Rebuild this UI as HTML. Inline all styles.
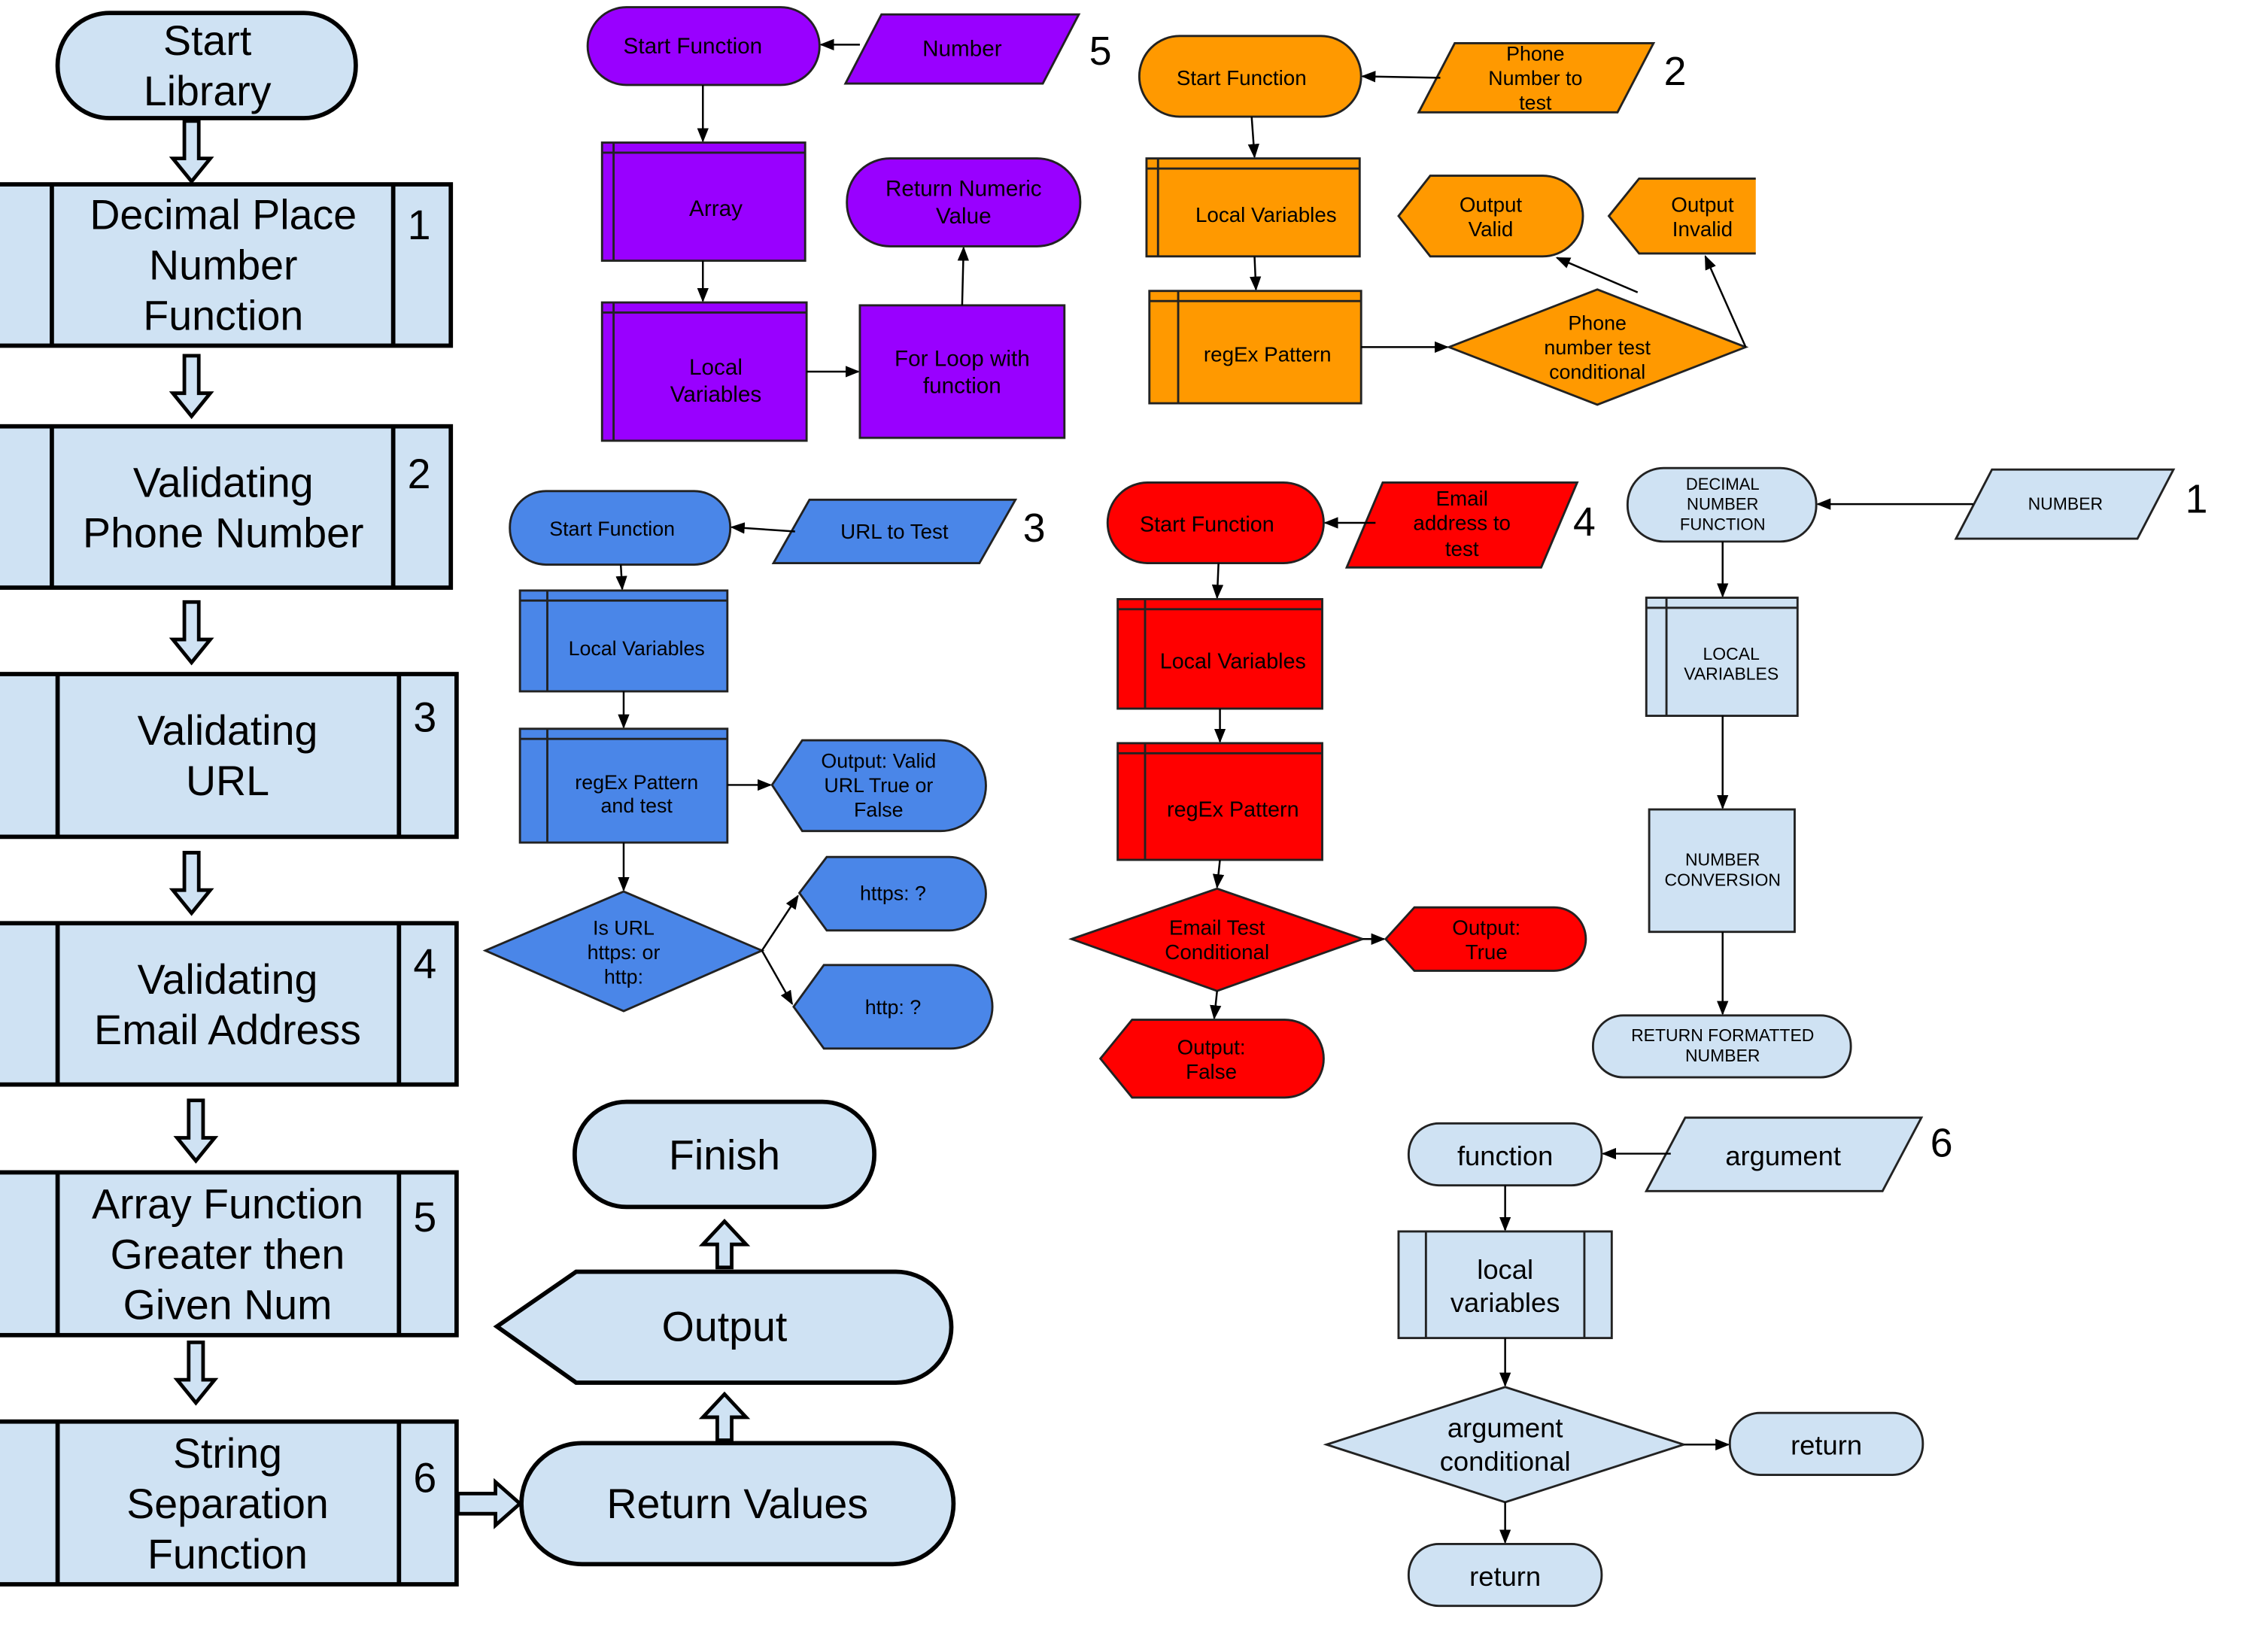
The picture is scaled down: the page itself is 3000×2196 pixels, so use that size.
<!DOCTYPE html>
<html><head><meta charset="utf-8"><style>
html,body{margin:0;padding:0;background:#fff;width:3000px;height:2196px;overflow:hidden}
svg{display:block}
text{font-family:"Liberation Sans",sans-serif;text-anchor:middle;fill:#000}
.lb{fill:#cfe2f3;stroke:#000;stroke-width:3}
.lbt{fill:#cfe2f3;stroke:#222;stroke-width:1.5}
.pu{fill:#9900ff;stroke:#222;stroke-width:1.5}
.or{fill:#ff9900;stroke:#222;stroke-width:1.5}
.bl{fill:#4a86e8;stroke:#222;stroke-width:1.5}
.rd{fill:#ff0000;stroke:#222;stroke-width:1.5}
.ln{stroke:#000;stroke-width:1.3;fill:none}
.ha{fill:#cfe2f3;stroke:#000;stroke-width:2.5}
</style></head><body>
<svg width="3000" height="2196" viewBox="0 0 1567 1147" preserveAspectRatio="none" xmlns="http://www.w3.org/2000/svg">
<defs><marker id="a" markerWidth="10" markerHeight="8" refX="9" refY="4" orient="auto" markerUnits="userSpaceOnUse"><path d="M0,0L10,4L0,8z" fill="#000"/></marker>
<g id="dn"><polygon class="ha" points="-5,0 5,0 5,26 13,26 0,42 -13,26 -5,26"/></g>
<g id="up"><polygon class="ha" points="-5,32 5,32 5,16 15,16 0,0 -15,16 -5,16"/></g>
</defs>

<!-- LEFT COLUMN -->
<rect class="lb" x="40" y="9" width="207" height="73" rx="36"/>
<text x="144" y="38" font-size="29">Start</text><text x="144" y="73" font-size="29">Library</text>

<use href="#dn" transform="translate(133,84)"/>
<use href="#dn" transform="translate(133,247)"/>
<use href="#dn" transform="translate(133,418)"/>
<use href="#dn" transform="translate(133,592)"/>
<use href="#dn" transform="translate(136,764)"/>
<use href="#dn" transform="translate(136,932)"/>

<rect class="lb" x="-2" y="128" width="315" height="112"/><line class="lb" x1="36" y1="128" x2="36" y2="240"/><line class="lb" x1="273" y1="128" x2="273" y2="240"/>
<text x="155" y="159" font-size="29">Decimal Place</text><text x="155" y="194" font-size="29">Number</text><text x="155" y="229" font-size="29">Function</text><text x="291" y="166" font-size="29">1</text>

<rect class="lb" x="-2" y="296" width="315" height="112"/><line class="lb" x1="36" y1="296" x2="36" y2="408"/><line class="lb" x1="273" y1="296" x2="273" y2="408"/>
<text x="155" y="345" font-size="29">Validating</text><text x="155" y="380" font-size="29">Phone Number</text><text x="291" y="339" font-size="29">2</text>

<rect class="lb" x="-2" y="468" width="319" height="113"/><line class="lb" x1="40" y1="468" x2="40" y2="581"/><line class="lb" x1="277" y1="468" x2="277" y2="581"/>
<text x="158" y="517" font-size="29">Validating</text><text x="158" y="552" font-size="29">URL</text><text x="295" y="508" font-size="29">3</text>

<rect class="lb" x="-2" y="641" width="319" height="112"/><line class="lb" x1="40" y1="641" x2="40" y2="753"/><line class="lb" x1="277" y1="641" x2="277" y2="753"/>
<text x="158" y="690" font-size="29">Validating</text><text x="158" y="725" font-size="29">Email Address</text><text x="295" y="679" font-size="29">4</text>

<rect class="lb" x="-2" y="814" width="319" height="113"/><line class="lb" x1="40" y1="814" x2="40" y2="927"/><line class="lb" x1="277" y1="814" x2="277" y2="927"/>
<text x="158" y="846" font-size="29">Array Function</text><text x="158" y="881" font-size="29">Greater then</text><text x="158" y="916" font-size="29">Given Num</text><text x="295" y="855" font-size="29">5</text>

<rect class="lb" x="-2" y="987" width="319" height="113"/><line class="lb" x1="40" y1="987" x2="40" y2="1100"/><line class="lb" x1="277" y1="987" x2="277" y2="1100"/>
<text x="158" y="1019" font-size="29">String</text><text x="158" y="1054" font-size="29">Separation</text><text x="158" y="1089" font-size="29">Function</text><text x="295" y="1036" font-size="29">6</text>

<polygon class="ha" points="318,1037 344,1037 344,1029 361,1044 344,1059 344,1051 318,1051"/>
<rect class="lb" x="362" y="1002" width="300" height="84" rx="42"/>
<text x="512" y="1054" font-size="29">Return Values</text>
<use href="#up" transform="translate(503,968)"/>
<path class="lb" d="M345,921 L400,883 L622,883 A38,38 0 0 1 622,960 L400,960 Z"/>
<text x="503" y="931" font-size="29">Output</text>
<use href="#up" transform="translate(503,848)"/>
<rect class="lb" x="399" y="765" width="208" height="73" rx="36"/>
<text x="503" y="812" font-size="29">Finish</text>

<!-- PURPLE 5 -->
<rect class="pu" x="408" y="5" width="161" height="54" rx="27"/><text x="481" y="37" font-size="15.5">Start Function</text>
<polygon class="pu" points="587,58 612,10 749,10 724,58"/><text x="668" y="39" font-size="15.5">Number</text>
<text x="764" y="45" font-size="28">5</text>
<line class="ln" x1="597" y1="31" x2="570" y2="31" marker-end="url(#a)"/>
<line class="ln" x1="488" y1="59" x2="488" y2="98" marker-end="url(#a)"/>
<rect class="pu" x="418" y="99" width="141" height="82"/><line class="pu" x1="418" y1="106" x2="559" y2="106"/><line class="pu" x1="426" y1="99" x2="426" y2="181"/>
<text x="497" y="150" font-size="15.5">Array</text>
<line class="ln" x1="488" y1="181" x2="488" y2="209" marker-end="url(#a)"/>
<rect class="pu" x="418" y="210" width="142" height="96"/><line class="pu" x1="418" y1="217" x2="560" y2="217"/><line class="pu" x1="426" y1="210" x2="426" y2="306"/>
<text x="497" y="260" font-size="15.5">Local</text><text x="497" y="279" font-size="15.5">Variables</text>
<line class="ln" x1="560" y1="258" x2="596" y2="258" marker-end="url(#a)"/>
<rect class="pu" x="597" y="212" width="142" height="92"/>
<text x="668" y="254" font-size="15.5">For Loop with</text><text x="668" y="273" font-size="15.5">function</text>
<line class="ln" x1="668" y1="212" x2="669" y2="172" marker-end="url(#a)"/>
<rect class="pu" x="588" y="110" width="162" height="61" rx="30"/>
<text x="669" y="136" font-size="15.5">Return Numeric</text><text x="669" y="155" font-size="15.5">Value</text>

<!-- ORANGE 2 -->
<rect class="or" x="791" y="25" width="154" height="56" rx="28"/><text x="862" y="59" font-size="14.5">Start Function</text>
<polygon class="or" points="985,78 1010,30 1148,30 1123,78"/>
<text x="1066" y="42" font-size="14">Phone</text><text x="1066" y="59" font-size="14">Number to</text><text x="1066" y="76" font-size="14">test</text>
<text x="1163" y="59" font-size="28">2</text>
<line class="ln" x1="1000" y1="54" x2="946" y2="53" marker-end="url(#a)"/>
<line class="ln" x1="869" y1="81" x2="871" y2="109" marker-end="url(#a)"/>
<rect class="or" x="796" y="110" width="148" height="68"/><line class="or" x1="796" y1="117" x2="944" y2="117"/><line class="or" x1="804" y1="110" x2="804" y2="178"/>
<text x="879" y="154" font-size="14.5">Local Variables</text>
<line class="ln" x1="871" y1="178" x2="872" y2="201" marker-end="url(#a)"/>
<rect class="or" x="798" y="202" width="147" height="78"/><line class="or" x1="798" y1="209" x2="945" y2="209"/><line class="or" x1="818" y1="202" x2="818" y2="280"/>
<text x="880" y="251" font-size="14.5">regEx Pattern</text>
<line class="ln" x1="945" y1="241" x2="1005" y2="241" marker-end="url(#a)"/>
<polygon class="or" points="1006,241 1109,201 1212,241 1109,281"/>
<text x="1109" y="229" font-size="14">Phone</text><text x="1109" y="246" font-size="14">number test</text><text x="1109" y="263" font-size="14">conditional</text>
<path class="or" d="M971,150 L993,122 L1071,122 A28,28 0 0 1 1071,178 L993,178 Z"/>
<text x="1035" y="147" font-size="14.5">Output</text><text x="1035" y="164" font-size="14.5">Valid</text>
<path class="or" d="M1219,124 L1138,124 L1117,150 L1138,176 L1219,176"/>
<text x="1182" y="147" font-size="14.5">Output</text><text x="1182" y="164" font-size="14.5">Invalid</text>
<line class="ln" x1="1137" y1="203" x2="1081" y2="179" marker-end="url(#a)"/>
<line class="ln" x1="1212" y1="241" x2="1184" y2="178" marker-end="url(#a)"/>

<!-- BLUE 3 -->
<rect class="bl" x="354" y="341" width="153" height="51" rx="25"/><text x="425" y="372" font-size="14">Start Function</text>
<polygon class="bl" points="537,391 562,347 705,347 680,391"/><text x="621" y="374" font-size="14.5">URL to Test</text>
<text x="718" y="376" font-size="28">3</text>
<line class="ln" x1="552" y1="369" x2="508" y2="366" marker-end="url(#a)"/>
<line class="ln" x1="431" y1="392" x2="432" y2="409" marker-end="url(#a)"/>
<rect class="bl" x="361" y="410" width="144" height="70"/><line class="bl" x1="361" y1="417" x2="505" y2="417"/><line class="bl" x1="380" y1="410" x2="380" y2="480"/>
<text x="442" y="455" font-size="14">Local Variables</text>
<line class="ln" x1="433" y1="480" x2="433" y2="505" marker-end="url(#a)"/>
<rect class="bl" x="361" y="506" width="144" height="79"/><line class="bl" x1="361" y1="513" x2="505" y2="513"/><line class="bl" x1="380" y1="506" x2="380" y2="585"/>
<text x="442" y="548" font-size="14">regEx Pattern</text><text x="442" y="564" font-size="14">and test</text>
<line class="ln" x1="505" y1="545" x2="535" y2="545" marker-end="url(#a)"/>
<path class="bl" d="M536,545 L557,514 L653,514 A31,31 0 0 1 653,577 L557,577 Z"/>
<text x="610" y="533" font-size="14">Output: Valid</text><text x="610" y="550" font-size="14">URL True or</text><text x="610" y="567" font-size="14">False</text>
<line class="ln" x1="433" y1="585" x2="433" y2="618" marker-end="url(#a)"/>
<polygon class="bl" points="337,660 433,619 529,660 433,702"/>
<text x="433" y="649" font-size="14">Is URL</text><text x="433" y="666" font-size="14">https: or</text><text x="433" y="683" font-size="14">http:</text>
<path class="bl" d="M555,620 L574,595 L659,595 A25,25 0 0 1 659,646 L574,646 Z"/><text x="620" y="625" font-size="14">https: ?</text>
<path class="bl" d="M551,699 L572,670 L660,670 A29,29 0 0 1 660,728 L572,728 Z"/><text x="620" y="704" font-size="14">http: ?</text>
<line class="ln" x1="529" y1="660" x2="554" y2="622" marker-end="url(#a)"/>
<line class="ln" x1="529" y1="660" x2="550" y2="697" marker-end="url(#a)"/>

<!-- RED 4 -->
<rect class="rd" x="769" y="335" width="150" height="56" rx="28"/><text x="838" y="369" font-size="15">Start Function</text>
<polygon class="rd" points="935,394 960,335 1095,335 1070,394"/>
<text x="1015" y="351" font-size="14.5">Email</text><text x="1015" y="368" font-size="14.5">address to</text><text x="1015" y="386" font-size="14.5">test</text>
<text x="1100" y="372" font-size="28">4</text>
<line class="ln" x1="955" y1="363" x2="920" y2="363" marker-end="url(#a)"/>
<line class="ln" x1="846" y1="391" x2="845" y2="415" marker-end="url(#a)"/>
<rect class="rd" x="776" y="416" width="142" height="76"/><line class="rd" x1="776" y1="423" x2="918" y2="423"/><line class="rd" x1="795" y1="416" x2="795" y2="492"/>
<text x="856" y="464" font-size="15">Local Variables</text>
<line class="ln" x1="847" y1="492" x2="847" y2="515" marker-end="url(#a)"/>
<rect class="rd" x="776" y="516" width="142" height="81"/><line class="rd" x1="776" y1="523" x2="918" y2="523"/><line class="rd" x1="795" y1="516" x2="795" y2="597"/>
<text x="856" y="567" font-size="15">regEx Pattern</text>
<line class="ln" x1="847" y1="597" x2="845" y2="616" marker-end="url(#a)"/>
<polygon class="rd" points="744,652 845,617 946,652 845,688"/>
<text x="845" y="649" font-size="14.5">Email Test</text><text x="845" y="666" font-size="14.5">Conditional</text>
<line class="ln" x1="946" y1="652" x2="961" y2="652" marker-end="url(#a)"/>
<path class="rd" d="M962,652 L982,630 L1079,630 A22,22 0 0 1 1079,674 L982,674 Z"/>
<text x="1032" y="649" font-size="14.5">Output:</text><text x="1032" y="666" font-size="14.5">True</text>
<line class="ln" x1="845" y1="688" x2="843" y2="707" marker-end="url(#a)"/>
<path class="rd" d="M764,735 L786,708 L892,708 A27,27 0 0 1 892,762 L786,762 Z"/>
<text x="841" y="732" font-size="14.5">Output:</text><text x="841" y="749" font-size="14.5">False</text>

<!-- LIGHT BLUE 1 -->
<rect class="lbt" x="1130" y="325" width="131" height="51" rx="25"/>
<text x="1196" y="340" font-size="11.5">DECIMAL</text><text x="1196" y="354" font-size="11.5">NUMBER</text><text x="1196" y="368" font-size="11.5">FUNCTION</text>
<polygon class="lbt" points="1358,374 1383,326 1509,326 1484,374"/><text x="1434" y="354" font-size="12">NUMBER</text>
<text x="1525" y="356" font-size="28">1</text>
<line class="ln" x1="1370" y1="350" x2="1262" y2="350" marker-end="url(#a)"/>
<line class="ln" x1="1196" y1="376" x2="1196" y2="414" marker-end="url(#a)"/>
<rect class="lbt" x="1143" y="415" width="105" height="82"/><line class="lbt" x1="1143" y1="422" x2="1248" y2="422"/><line class="lbt" x1="1157" y1="415" x2="1157" y2="497"/>
<text x="1202" y="458" font-size="12">LOCAL</text><text x="1202" y="472" font-size="12">VARIABLES</text>
<line class="ln" x1="1196" y1="497" x2="1196" y2="561" marker-end="url(#a)"/>
<rect class="lbt" x="1145" y="562" width="101" height="85"/>
<text x="1196" y="601" font-size="12">NUMBER</text><text x="1196" y="615" font-size="12">CONVERSION</text>
<line class="ln" x1="1196" y1="647" x2="1196" y2="704" marker-end="url(#a)"/>
<rect class="lbt" x="1106" y="705" width="179" height="43" rx="21"/>
<text x="1196" y="723" font-size="12">RETURN FORMATTED</text><text x="1196" y="737" font-size="12">NUMBER</text>

<!-- 6 -->
<rect class="lbt" x="978" y="780" width="134" height="43" rx="21"/><text x="1045" y="809" font-size="19">function</text>
<polygon class="lbt" points="1143,827 1170,776 1334,776 1307,827"/><text x="1238" y="809" font-size="19">argument</text>
<text x="1348" y="803" font-size="28">6</text>
<line class="ln" x1="1160" y1="801" x2="1113" y2="801" marker-end="url(#a)"/>
<line class="ln" x1="1045" y1="823" x2="1045" y2="854" marker-end="url(#a)"/>
<rect class="lbt" x="971" y="855" width="148" height="74"/><line class="lbt" x1="990" y1="855" x2="990" y2="929"/><line class="lbt" x1="1100" y1="855" x2="1100" y2="929"/>
<text x="1045" y="888" font-size="19">local</text><text x="1045" y="911" font-size="19">variables</text>
<line class="ln" x1="1045" y1="929" x2="1045" y2="962" marker-end="url(#a)"/>
<polygon class="lbt" points="921,1003 1045,963 1169,1003 1045,1043"/>
<text x="1045" y="998" font-size="19">argument</text><text x="1045" y="1021" font-size="19">conditional</text>
<line class="ln" x1="1169" y1="1003" x2="1200" y2="1003" marker-end="url(#a)"/>
<rect class="lbt" x="1201" y="981" width="134" height="43" rx="21"/><text x="1268" y="1010" font-size="19">return</text>
<line class="ln" x1="1045" y1="1043" x2="1045" y2="1071" marker-end="url(#a)"/>
<rect class="lbt" x="978" y="1072" width="134" height="43" rx="21"/><text x="1045" y="1101" font-size="19">return</text>
</svg>
</body></html>
